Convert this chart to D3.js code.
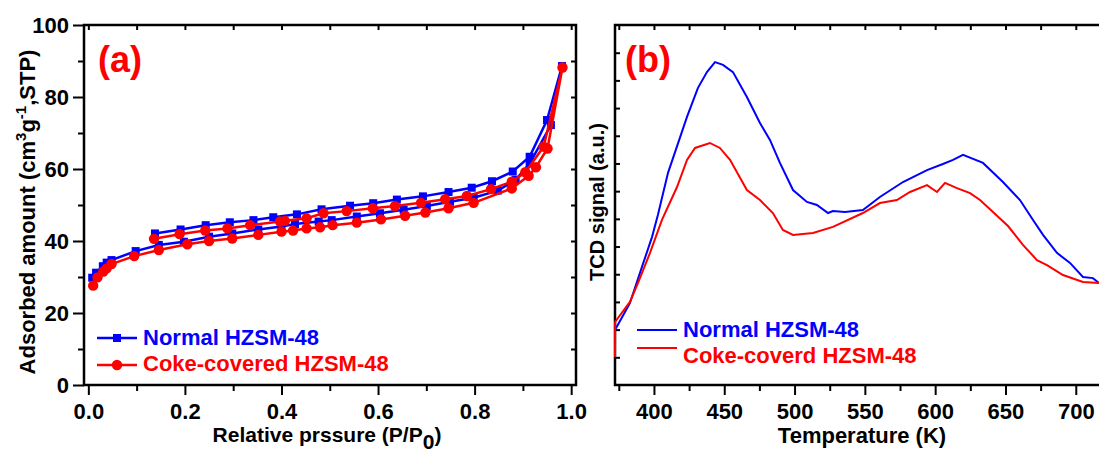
<!DOCTYPE html>
<html>
<head>
<meta charset="utf-8">
<script src="https://cdn.jsdelivr.net/npm/d3@7"></script>
<style>
body { margin: 0; background: #fff; }
svg text { font-family: "Liberation Sans", Arial, sans-serif; font-weight: bold; }
</style>
</head>
<body>
<div id="chartdiv"></div>
<script>
// global vars
// (a) N2 isotherms, [P/P0, adsorbed amount]
let normal_ads = [[0.008, 29.8], [0.016, 31.2], [0.030, 33.0], [0.038, 34.0], [0.048, 34.7], [0.098, 37.2],
        [0.146, 38.9], [0.198, 39.8], [0.250, 41.2], [0.298, 42.1], [0.352, 43.2], [0.400, 44.0], [0.428, 44.7],
        [0.477, 45.4], [0.504, 45.8], [0.556, 46.8], [0.604, 47.7], [0.653, 48.7], [0.701, 49.7], [0.749, 50.9],
        [0.798, 52.0], [0.848, 54.0], [0.885, 57.0], [0.914, 61.5], [0.958, 72.2], [0.981, 88.6]],
    normal_des = [[0.950, 73.6], [0.914, 63.4], [0.879, 59.3], [0.836, 56.6], [0.794, 54.8], [0.746, 53.6],
        [0.693, 52.4], [0.639, 51.5], [0.590, 50.5], [0.542, 49.8], [0.483, 48.8], [0.432, 47.4], [0.383, 46.6],
        [0.342, 45.8], [0.293, 45.2], [0.243, 44.4], [0.191, 43.2], [0.138, 42.1]],
    coke_ads = [[0.010, 27.6], [0.019, 29.9], [0.031, 31.5], [0.038, 32.4], [0.048, 33.6], [0.095, 35.8],
        [0.146, 37.5], [0.205, 39.1], [0.250, 40.0], [0.298, 40.7], [0.352, 41.7], [0.400, 42.6], [0.424, 42.9],
        [0.452, 43.5], [0.480, 43.8], [0.506, 44.4], [0.556, 45.1], [0.606, 46.0], [0.656, 47.0], [0.698, 47.9],
        [0.746, 49.1], [0.798, 50.6], [0.877, 54.6], [0.912, 58.1], [0.927, 60.5], [0.951, 65.7], [0.982, 88.2]],
    coke_des = [[0.943, 66.2], [0.905, 59.1], [0.877, 56.5], [0.834, 54.4], [0.784, 52.5], [0.739, 51.6],
        [0.689, 50.6], [0.635, 49.7], [0.589, 49.1], [0.535, 48.3], [0.487, 47.7], [0.452, 46.3], [0.407, 45.6],
        [0.397, 45.4], [0.335, 44.4], [0.288, 43.5], [0.242, 42.9], [0.189, 41.9], [0.136, 40.6]];
let p_ticks = [0, 0.2, 0.4, 0.6, 0.8, 1.0],
    p_minor = [0.1, 0.3, 0.5, 0.7, 0.9],
    p_top = [0, 0.1, 0.2, 0.3, 0.4, 0.5, 0.6, 0.7, 0.8, 0.9, 1.0],
    v_ticks = [0, 20, 40, 60, 80, 100],
    v_minor = [10, 30, 50, 70, 90],
    v_right = [10, 20, 30, 40, 50, 60, 70, 80, 90];

// (b) NH3-TPD, temperature (K) and TCD signal (a.u.)
let tpd_temp_normal = [372.3, 382.9, 390.0, 398.6, 402.8, 410.0, 423.5, 431.3, 437.7, 443.4, 449.1, 456.2, 466.1,
        475.4, 482.5, 489.6, 498.9, 508.8, 515.9, 523.8, 527.3, 535.8, 548.6, 560.7, 577.1, 594.2, 605.5, 612.7,
        619.8, 634.0, 648.2, 660.3, 669.6, 676.7, 686.6, 695.9, 705.1, 712.2, 716.5],
    tpd_sig_normal = [1.99, 2.96, 4.04, 5.34, 6.14, 7.66, 9.68, 10.73, 11.30, 11.66, 11.56, 11.30, 10.40,
        9.46, 8.85, 8.02, 7.04, 6.61, 6.50, 6.21, 6.28, 6.25, 6.32, 6.79, 7.33, 7.76, 7.98, 8.13,
        8.31, 8.02, 7.33, 6.68, 5.96, 5.42, 4.77, 4.41, 3.90, 3.86, 3.68],
    tpd_temp_coke = [372.3, 372.4, 374.4, 382.9, 388.6, 397.2, 405.7, 416.4, 423.5, 429.2, 439.8, 446.9, 454.1,
        466.1, 475.4, 484.6, 491.7, 498.9, 513.1, 527.3, 548.6, 560.7, 572.8, 582.1, 594.2, 601.3, 607.0, 615.5,
        624.8, 631.9, 641.1, 651.8, 662.4, 672.4, 679.5, 690.9, 705.1, 716.5],
    tpd_sig_coke = [1.01, 2.28, 2.42, 3.00, 3.68, 4.77, 5.96, 7.15, 8.13, 8.56, 8.74, 8.56, 8.13,
        7.04, 6.68, 6.21, 5.60, 5.42, 5.49, 5.71, 6.21, 6.57, 6.68, 6.97, 7.22, 6.97, 7.30, 7.11,
        6.93, 6.68, 6.25, 5.74, 5.06, 4.51, 4.33, 3.97, 3.72, 3.68];
let t_ticks = [400, 450, 500, 550, 600, 650, 700],
    t_minor = [375, 425, 475, 525, 575, 625, 675],
    t_top = [375, 400, 425, 450, 475, 500, 525, 550, 575, 600, 625, 650, 675, 700],
    s_ticks = [1, 2, 3, 4, 5, 6, 7, 8, 9, 10, 11, 12];

let blue = "#0000ff",
    red = "#ff0000",
    width = 1099,
    height = 452;

let svg = d3.select("#chartdiv")
    .append("svg")
    .attr("width", width)
    .attr("height", height);

function styleAxis(g) {
    g.select(".domain").remove();
    g.selectAll("line")
        .attr("stroke", "#000")
        .attr("stroke-width", 2);
    g.selectAll("text")
        .attr("font-size", 22)
        .attr("fill", "#000");
}

function addAxis(axis, tx, ty) {
    return svg.append("g")
        .attr("transform", "translate(" + tx + "," + ty + ")")
        .call(axis)
        .call(styleAxis);
}

// panel (a)
{
    let x = d3.scaleLinear().domain([-0.009, 1.01]).range([84, 576]),
        y = d3.scaleLinear().domain([0, 100]).range([385, 25]);

    addAxis(d3.axisBottom(x).tickValues(p_ticks).tickSize(10).tickFormat(d3.format(".1f")), 0, 385)
        .selectAll("text")
        .attr("y", 34)
        .attr("dy", null);
    addAxis(d3.axisBottom(x).tickValues(p_minor).tickSize(6).tickFormat(""), 0, 385);
    addAxis(d3.axisTop(x).tickValues(p_top).tickSize(-5).tickFormat(""), 0, 25);
    addAxis(d3.axisLeft(y).tickValues(v_ticks).tickSize(11).tickFormat(d3.format("d")), 84, 0)
        .selectAll("text")
        .attr("x", -15)
        .attr("dy", "0.36em");
    addAxis(d3.axisLeft(y).tickValues(v_minor).tickSize(6).tickFormat(""), 84, 0);
    addAxis(d3.axisRight(y).tickValues(v_right).tickSize(-5).tickFormat(""), 576, 0);

    svg.append("rect")
        .attr("x", 84)
        .attr("y", 25)
        .attr("width", 492)
        .attr("height", 360)
        .attr("fill", "none")
        .attr("stroke", "#000")
        .attr("stroke-width", 2.5);

    let line = d3.line()
        .x(function(d) { return x(d[0]); })
        .y(function(d) { return y(d[1]); });

    // normal sample (squares)
    let normal = normal_ads.concat(normal_des);
    svg.append("path")
        .datum(normal)
        .attr("d", line)
        .attr("fill", "none")
        .attr("stroke", blue)
        .attr("stroke-width", 2.5);
    svg.selectAll(".sqPt")
        .data(normal)
        .enter()
        .append("rect")
        .attr("class", "sqPt")
        .attr("x", function(d) { return x(d[0]) - 4; })
        .attr("y", function(d) { return y(d[1]) - 4; })
        .attr("width", 8)
        .attr("height", 8)
        .attr("fill", blue);

    // coke-covered sample (circles)
    let coke = coke_ads.concat(coke_des);
    svg.append("path")
        .datum(coke)
        .attr("d", line)
        .attr("fill", "none")
        .attr("stroke", red)
        .attr("stroke-width", 2.5);
    svg.selectAll(".cPt")
        .data(coke)
        .enter()
        .append("circle")
        .attr("class", "cPt")
        .attr("cx", function(d) { return x(d[0]); })
        .attr("cy", function(d) { return y(d[1]); })
        .attr("r", 5.2)
        .attr("fill", red);

    // legend
    svg.append("line").attr("x1", 97).attr("x2", 137).attr("y1", 338).attr("y2", 338)
        .attr("stroke", blue).attr("stroke-width", 2.5);
    svg.append("rect").attr("x", 113).attr("y", 334).attr("width", 8).attr("height", 8).attr("fill", blue);
    svg.append("text").attr("x", 143).attr("y", 345).attr("font-size", 22).attr("fill", blue)
        .text("Normal HZSM-48");
    svg.append("line").attr("x1", 97).attr("x2", 137).attr("y1", 365).attr("y2", 365)
        .attr("stroke", red).attr("stroke-width", 2.5);
    svg.append("circle").attr("cx", 117).attr("cy", 365).attr("r", 5.2).attr("fill", red);
    svg.append("text").attr("x", 143).attr("y", 371).attr("font-size", 22).attr("fill", red)
        .text("Coke-covered HZSM-48");

    // titles
    svg.append("text")
        .attr("x", 98)
        .attr("y", 72)
        .attr("font-size", 36)
        .attr("fill", red)
        .text("(a)");

    let xt = svg.append("text")
        .attr("x", 327)
        .attr("y", 442)
        .attr("text-anchor", "middle")
        .attr("font-size", 21);
    xt.append("tspan").text("Relative prssure (P/P");
    xt.append("tspan").attr("dy", 7).text("0");
    xt.append("tspan").attr("dy", -7).text(")");

    let yt = svg.append("text")
        .attr("transform", "translate(35,212) rotate(-90)")
        .attr("text-anchor", "middle")
        .attr("font-size", 22);
    yt.append("tspan").text("Adsorbed amount (cm");
    yt.append("tspan").attr("dy", -9).attr("font-size", 15).text("3");
    yt.append("tspan").attr("dy", 9).text("g");
    yt.append("tspan").attr("dy", -9).attr("font-size", 15).text("-1");
    yt.append("tspan").attr("dy", 9).text(",STP)");
}

// panel (b)
{
    let x = d3.scaleLinear().domain([372.3, 720]).range([615, 1103.9]),
        y = d3.scaleLinear().domain([0, 13]).range([385, 25]);

    addAxis(d3.axisBottom(x).tickValues(t_ticks).tickSize(10).tickFormat(d3.format("d")), 0, 385)
        .selectAll("text")
        .attr("y", 34)
        .attr("dy", null);
    addAxis(d3.axisBottom(x).tickValues(t_minor).tickSize(6).tickFormat(""), 0, 385);
    addAxis(d3.axisTop(x).tickValues(t_top).tickSize(-5).tickFormat(""), 0, 25);
    addAxis(d3.axisLeft(y).tickValues(s_ticks).tickSize(-5).tickFormat(""), 615, 0);

    svg.append("rect")
        .attr("x", 615)
        .attr("y", 25)
        .attr("width", 500)
        .attr("height", 360)
        .attr("fill", "none")
        .attr("stroke", "#000")
        .attr("stroke-width", 2.5);

    let line = d3.line()
        .x(function(d) { return x(d[0]); })
        .y(function(d) { return y(d[1]); });

    svg.append("path")
        .datum(d3.zip(tpd_temp_normal, tpd_sig_normal))
        .attr("d", line)
        .attr("fill", "none")
        .attr("stroke", blue)
        .attr("stroke-width", 2);
    svg.append("path")
        .datum(d3.zip(tpd_temp_coke, tpd_sig_coke))
        .attr("d", line)
        .attr("fill", "none")
        .attr("stroke", red)
        .attr("stroke-width", 2);

    // legend
    svg.append("line").attr("x1", 637).attr("x2", 677).attr("y1", 330).attr("y2", 330)
        .attr("stroke", blue).attr("stroke-width", 2);
    svg.append("text").attr("x", 683).attr("y", 337).attr("font-size", 22).attr("fill", blue)
        .text("Normal HZSM-48");
    svg.append("line").attr("x1", 637).attr("x2", 677).attr("y1", 348).attr("y2", 348)
        .attr("stroke", red).attr("stroke-width", 2);
    svg.append("text").attr("x", 683).attr("y", 363).attr("font-size", 22).attr("fill", red)
        .text("Coke-coverd HZSM-48");

    // titles
    svg.append("text")
        .attr("x", 625)
        .attr("y", 72)
        .attr("font-size", 36)
        .attr("fill", red)
        .text("(b)");
    svg.append("text")
        .attr("x", 862)
        .attr("y", 443)
        .attr("text-anchor", "middle")
        .attr("font-size", 22)
        .text("Temperature (K)");
    svg.append("text")
        .attr("transform", "translate(604,202) rotate(-90)")
        .attr("text-anchor", "middle")
        .attr("font-size", 20)
        .text("TCD signal (a.u.)");
}
</script>
</body>
</html>
